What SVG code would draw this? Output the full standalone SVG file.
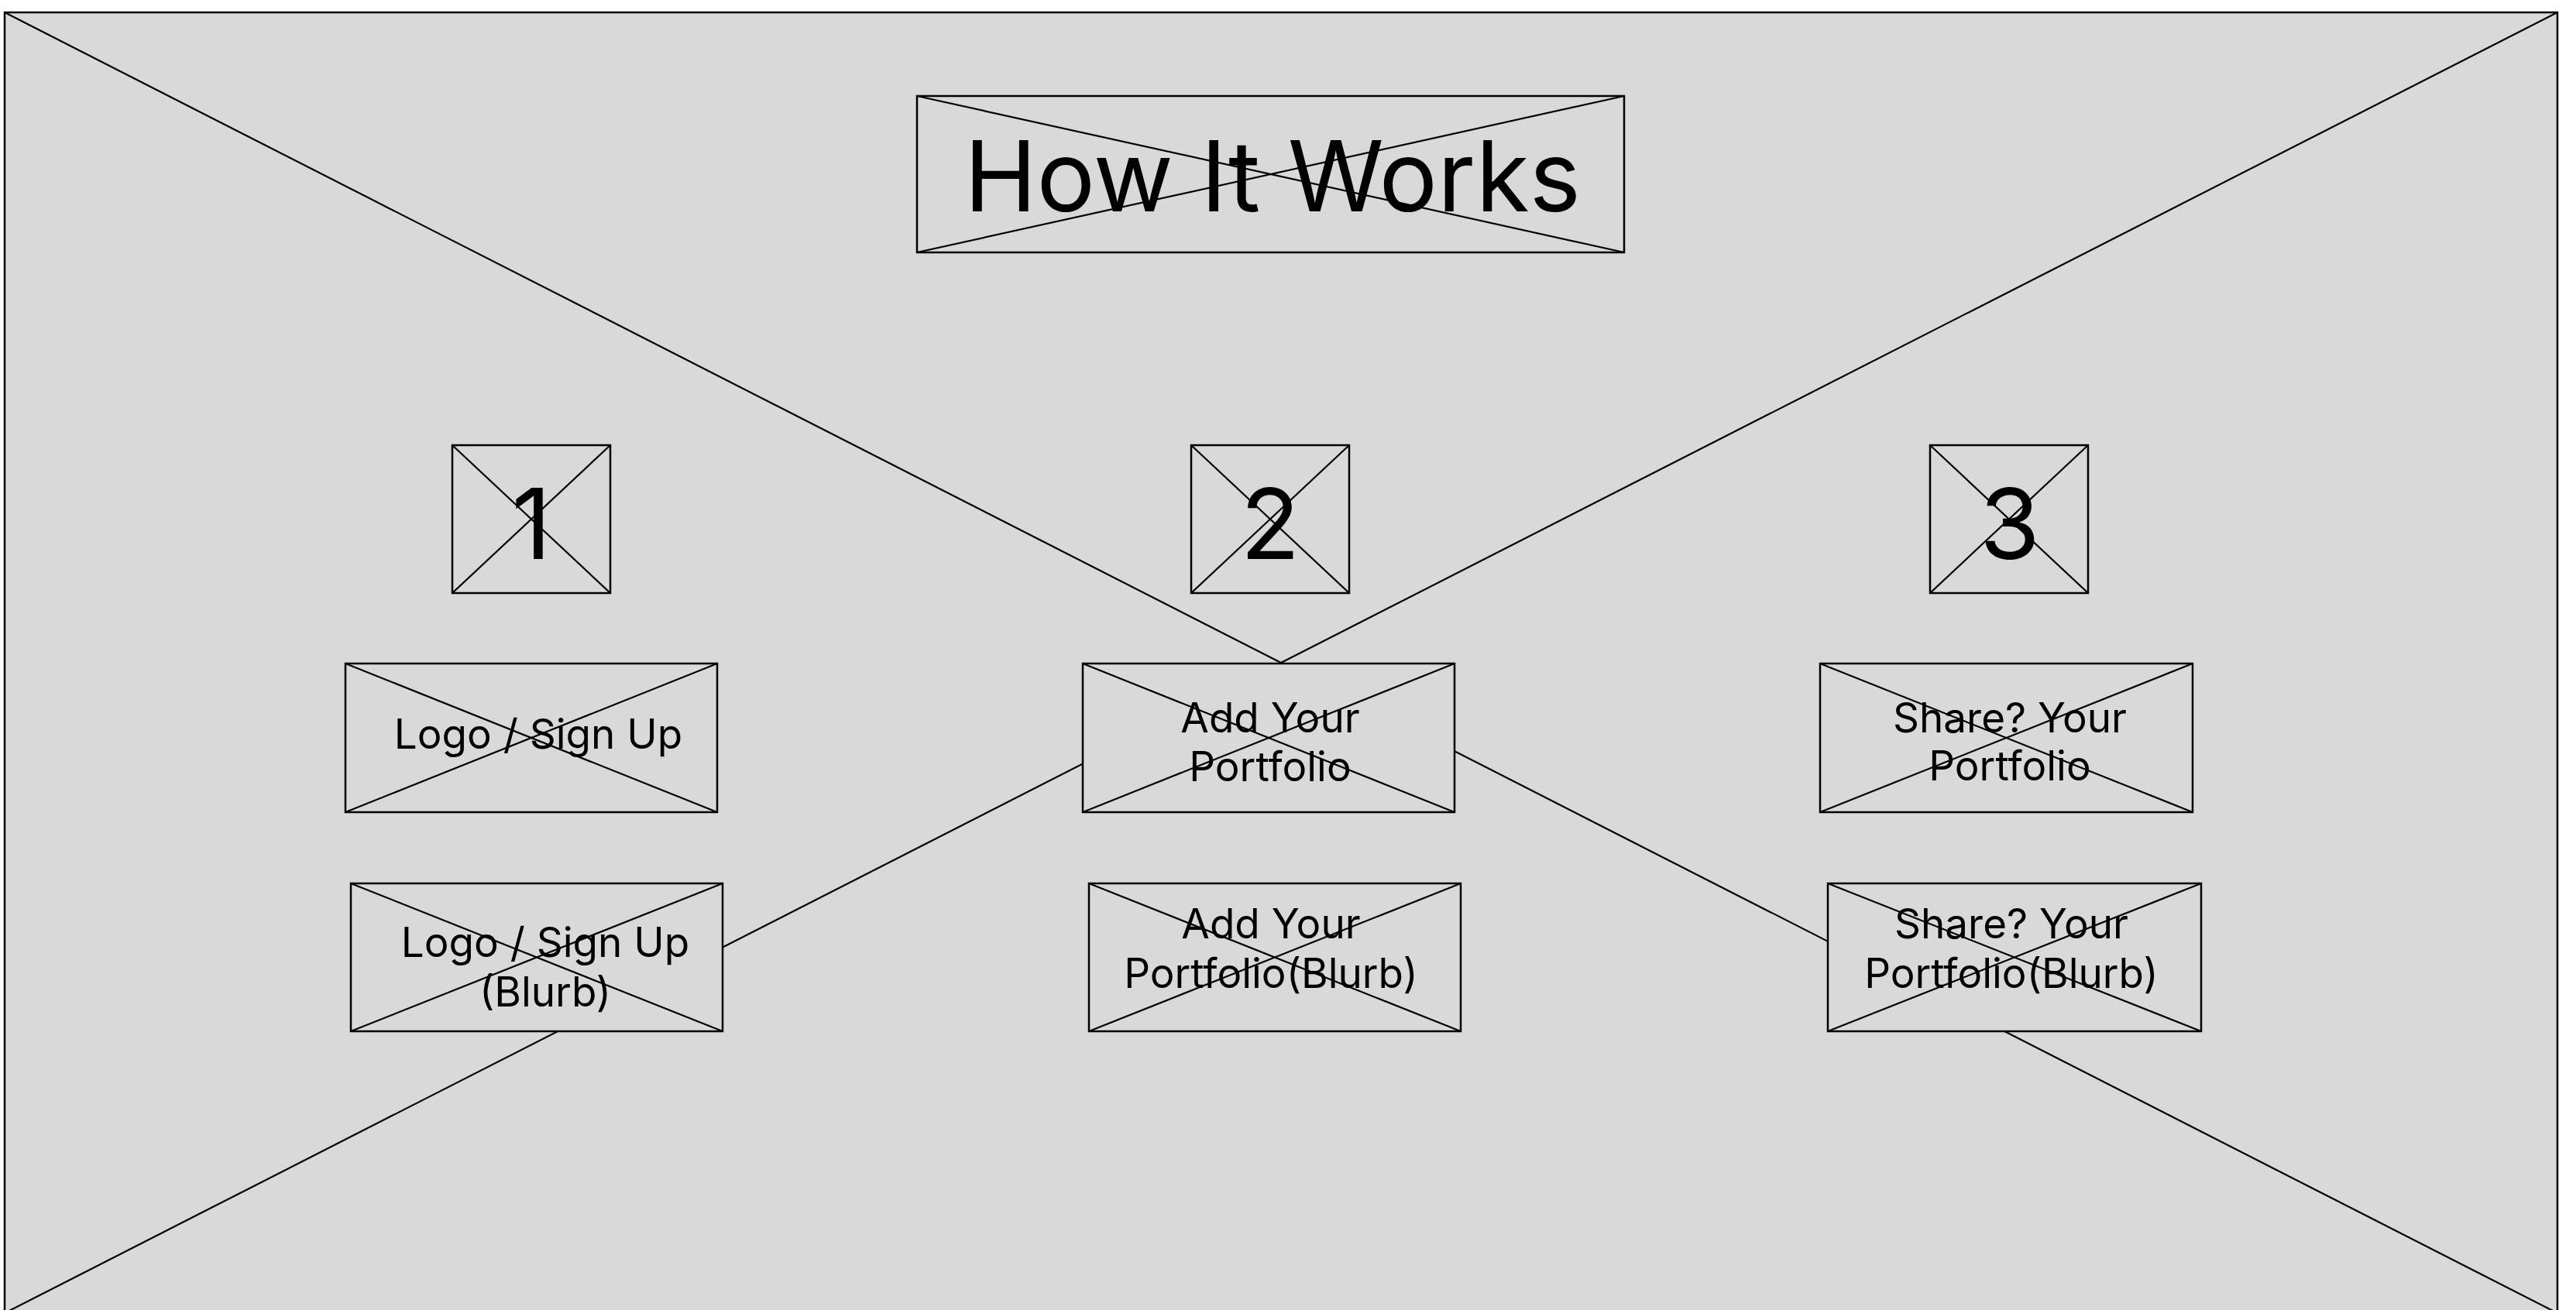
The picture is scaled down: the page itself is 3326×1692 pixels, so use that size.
<svg xmlns="http://www.w3.org/2000/svg" width="3326" height="1692" viewBox="0 0 3326 1692">
<style>
.bg{fill:#ffffff}
.ph{fill:#d9d9d9;stroke:#000;stroke-width:2.5}
.x{stroke:#000;stroke-width:2.2;fill:none}
.t{font-family:Inter,"Liberation Sans",sans-serif;fill:#000;text-anchor:middle}
.big{font-size:126px}
.sm{font-size:53px}
</style>
<rect class="bg" x="0" y="0" width="3326" height="1692"/>
<g id="frame">
<rect class="ph" x="6" y="16" width="3296" height="1680"/>
</g>
<g id="connectors">
<line class="x" x1="6" y1="16" x2="3302" y2="1696"/>
<line class="x" x1="3302" y1="16" x2="6" y2="1696"/>
</g>
<g id="title">
<rect class="ph" x="1184" y="124" width="913" height="202"/>
<line class="x" x1="1184" y1="124" x2="2097" y2="326"/><line class="x" x1="2097" y1="124" x2="1184" y2="326"/>
<text class="t big" x="1643" y="273">How It Works</text>
</g>
<g id="num1">
<rect class="ph" x="584" y="575" width="204" height="191"/>
<line class="x" x1="584" y1="575" x2="788" y2="766"/><line class="x" x1="788" y1="575" x2="584" y2="766"/>
<text class="t big" x="686" y="722">1</text>
</g>
<g id="num2">
<rect class="ph" x="1538" y="575" width="204" height="191"/>
<line class="x" x1="1538" y1="575" x2="1742" y2="766"/><line class="x" x1="1742" y1="575" x2="1538" y2="766"/>
<text class="t big" x="1640" y="722">2</text>
</g>
<g id="num3">
<rect class="ph" x="2492" y="575" width="204" height="191"/>
<line class="x" x1="2492" y1="575" x2="2696" y2="766"/><line class="x" x1="2696" y1="575" x2="2492" y2="766"/>
<text class="t big" x="2595" y="722">3</text>
</g>
<g id="step1">
<rect class="ph" x="446" y="857" width="480" height="192"/>
<line class="x" x1="446" y1="857" x2="926" y2="1049"/><line class="x" x1="926" y1="857" x2="446" y2="1049"/>
<text class="t sm" x="695" y="967">Logo / Sign Up</text>
</g>
<g id="step2">
<rect class="ph" x="1398" y="857" width="480" height="192"/>
<line class="x" x1="1398" y1="857" x2="1878" y2="1049"/><line class="x" x1="1878" y1="857" x2="1398" y2="1049"/>
<text class="t sm" x="1640" y="946">Add Your</text>
<text class="t sm" x="1640" y="1009">Portfolio</text>
</g>
<g id="step3">
<rect class="ph" x="2350" y="857" width="481" height="192"/>
<line class="x" x1="2350" y1="857" x2="2831" y2="1049"/><line class="x" x1="2831" y1="857" x2="2350" y2="1049"/>
<text class="t sm" x="2595" y="946">Share? Your</text>
<text class="t sm" x="2595" y="1008">Portfolio</text>
</g>
<g id="blurb1">
<rect class="ph" x="453" y="1141" width="480" height="191"/>
<line class="x" x1="453" y1="1141" x2="933" y2="1332"/><line class="x" x1="933" y1="1141" x2="453" y2="1332"/>
<text class="t sm" x="704" y="1236">Logo / Sign Up</text>
<text class="t sm" x="704" y="1300">(Blurb)</text>
</g>
<g id="blurb2">
<rect class="ph" x="1406" y="1141" width="480" height="191"/>
<line class="x" x1="1406" y1="1141" x2="1886" y2="1332"/><line class="x" x1="1886" y1="1141" x2="1406" y2="1332"/>
<text class="t sm" x="1641" y="1212">Add Your</text>
<text class="t sm" x="1641" y="1276">Portfolio(Blurb)</text>
</g>
<g id="blurb3">
<rect class="ph" x="2360" y="1141" width="482" height="191"/>
<line class="x" x1="2360" y1="1141" x2="2842" y2="1332"/><line class="x" x1="2842" y1="1141" x2="2360" y2="1332"/>
<text class="t sm" x="2597" y="1212">Share? Your</text>
<text class="t sm" x="2597" y="1276">Portfolio(Blurb)</text>
</g>
</svg>
